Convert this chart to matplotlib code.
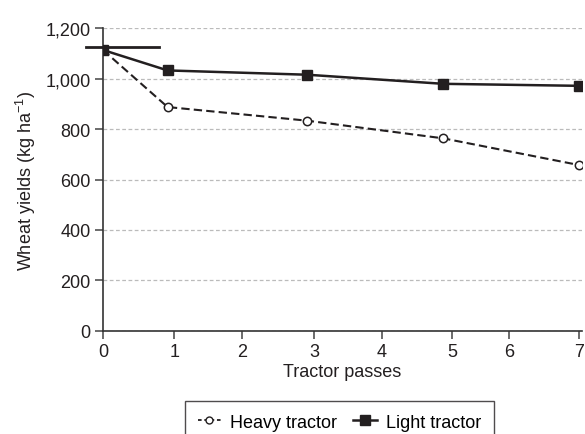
import numpy as np
import matplotlib
matplotlib.use('Agg')
import matplotlib.pyplot as plt
from matplotlib.lines import Line2D

plt.rcParams['font.family'] = ['Liberation Sans', 'DejaVu Sans']
plt.rcParams['mathtext.fontset'] = 'custom'
plt.rcParams['mathtext.rm'] = 'Liberation Sans'
plt.rcParams['mathtext.it'] = 'Liberation Sans'

# data
passes = [0, 0.95, 3, 5, 7]
heavy = [1113, 887, 833, 763, 657]
light = [1113, 1032, 1015, 979, 971]
lsd_y = 1125
lsd_x = [-0.25, 0.82]
xtick_pos = [0, 1.05, 2.05, 3.1, 4.1, 5.13, 5.97, 6.99]
xtick_lab = ['0', '1', '2', '3', '4', '5', '6', '7']
yticks = [0, 200, 400, 600, 800, 1000, 1200]

ink = '#231f20'
fs = 13

fig = plt.figure(figsize=(5.85, 4.35), dpi=100)
ax = fig.add_axes([0.176, 0.2368, 0.819, 0.6965])

ax.plot(passes, heavy, color=ink, lw=1.5, ls=(0, (4, 2)), marker='o', ms=6,
        mfc='white', mec=ink, mew=1.1, label='Heavy tractor', zorder=3)
ax.plot(passes, light, color=ink, lw=1.8, marker='s', ms=7, mfc=ink, mec=ink,
        label='Light tractor', zorder=4)
ax.plot(lsd_x, [lsd_y, lsd_y], color=ink, lw=2, clip_on=False, zorder=5)

ax.set_xlim(0, 7.04)
ax.set_ylim(0, 1200)
ax.set_xticks(xtick_pos)
ax.set_xticklabels(xtick_lab)
ax.set_yticks(yticks)
ax.set_yticklabels(['{:,}'.format(v) for v in yticks])
ax.yaxis.grid(True, color='#bbbbbb', ls=(0, (3, 2)), lw=0.9)
ax.set_axisbelow(True)
for s in ['top', 'right']:
    ax.spines[s].set_visible(False)
for s in ['left', 'bottom']:
    ax.spines[s].set_color('#333333')
    ax.spines[s].set_linewidth(1.2)
ax.tick_params(axis='both', direction='out', length=6, width=1.1, color='#444444',
               labelsize=fs, labelcolor=ink, pad=3)

ax.set_xlabel('Tractor passes', fontsize=fs, color=ink, labelpad=2)
ax.set_ylabel(r'Wheat yields (kg ha$^{-1}$)', fontsize=fs, color=ink, labelpad=5)

h1 = Line2D([], [], color=ink, lw=1.3, ls=(0, (2, 1.5)), marker='o', ms=5,
            mfc='white', mec=ink, mew=1)
h2 = Line2D([], [], color=ink, lw=1.8, marker='s', ms=6.5, mfc=ink, mec=ink)
leg = fig.legend([h1, h2], ['Heavy tractor', 'Light tractor'], loc='upper center',
                 bbox_to_anchor=(0.58, 0.076), ncol=2, frameon=True, fancybox=False,
                 fontsize=fs, handlelength=1.3, handletextpad=0.5, columnspacing=0.9,
                 borderpad=0.7, borderaxespad=0)
leg.get_frame().set_edgecolor(ink)
leg.get_frame().set_linewidth(1.0)

fig.savefig('out.png', dpi=100)
